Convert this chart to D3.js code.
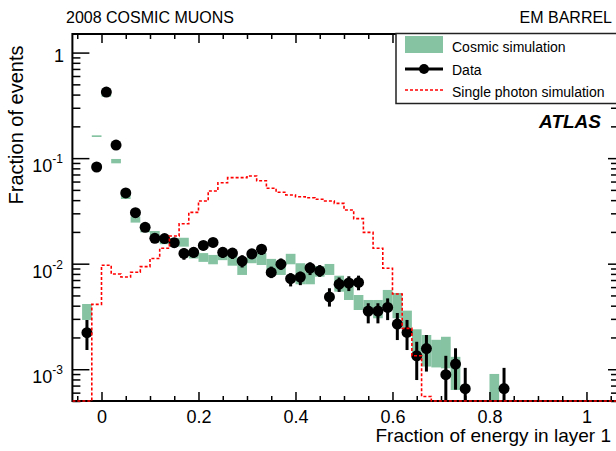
<!DOCTYPE html>
<html><head><meta charset="utf-8">
<script src="https://cdn.jsdelivr.net/npm/d3@7"></script>
<style>
body{margin:0;background:#fff}
text{font-family:"Liberation Sans",Arial,Helvetica,sans-serif;fill:#000}
</style>
</head><body>
<svg id="c" width="616" height="451"></svg>
<script>
// ---------- DATA ----------
const bins = [-0.03,-0.01,0.01,0.03,0.05,0.07,0.09,0.11,0.13,0.15,0.17,0.19,0.21,0.23,0.25,0.27,0.29,0.31,0.33,0.35,0.37,0.39,0.41,0.43,0.45,0.47,0.49,0.51,0.53,0.55,0.57,0.59,0.61,0.63,0.65,0.67,0.69,0.71,0.73,0.75,0.77,0.79,0.81,0.83];
const binWidth = 0.02;
const dataVal = [0.00222,0.0824,0.423,0.133,0.0468,0.0304,0.0221,0.0174,0.0173,0.0158,0.0125,0.0128,0.0149,0.0159,0.0128,0.0126,0.0106,0.0124,0.0137,0.00826,0.00989,0.00721,0.00748,0.0091,0.00853,0.00484,0.0064,0.00656,0.00664,0.00356,0.00356,0.00385,0.00268,0.00223,0.00134,0.00157,null,0.000888,0.00112,0.000654,null,null,null,0.000655];
const dataLo = [0.00152,0.078,0.41,0.127,0.0445,0.0288,0.0208,0.0162,0.0161,0.0146,0.0109,0.0114,0.0134,0.0143,0.0113,0.0111,0.0092,0.011,0.0121,0.0073,0.00873,0.00609,0.00626,0.0078,0.0075,0.00392,0.0054,0.0055,0.0056,0.00272,0.00272,0.00292,0.00189,0.00152,0.00079,0.00095,null,0.00049,0.00064,0.00049,null,null,null,0.00049];
const dataHi = [0.00293,0.087,0.436,0.139,0.049,0.032,0.0234,0.0186,0.0185,0.017,0.014,0.0142,0.0164,0.0175,0.0143,0.0141,0.012,0.0138,0.0153,0.00938,0.0112,0.00813,0.0084,0.0103,0.0097,0.00585,0.0074,0.0076,0.0077,0.00422,0.00422,0.00469,0.00341,0.00293,0.00182,0.00211,null,0.00134,0.00158,0.00103,null,null,null,0.00103];
const simLo = [0.00293,0.1586,0.382,0.0893,0.041,0.0245,0.0198,0.0168,0.0153,0.0145,0.0145,0.0112,0.0104,0.00987,0.0108,0.00957,0.00782,0.0101,0.00972,0.00782,0.00782,0.00987,0.00638,0.00638,0.00753,0.00782,0.00543,0.00453,0.00364,0.00364,0.00304,0.00406,0.00304,0.00236,0.00142,0.00106,0.00104,0.00102,0.000636,null,null,null,0.0003,null];
const simHi = [0.00415,0.1645,0.403,0.0982,0.0465,0.0279,0.0238,0.0204,0.018,0.0175,0.0176,0.0135,0.0126,0.0121,0.0126,0.0121,0.0101,0.0121,0.0126,0.0111,0.0104,0.0124,0.0101,0.0084,0.00951,0.00994,0.00769,0.00628,0.00505,0.00453,0.00453,0.00564,0.00528,0.00359,0.00239,0.00211,0.0019,0.00203,0.00131,null,null,null,0.000902,null];
const photon = [0,0.00412,0.00966,0.00798,0.00748,0.00829,0.00937,0.0112,0.014,0.0183,0.0239,0.0306,0.0393,0.0489,0.0585,0.0653,0.0653,0.0678,0.0611,0.0518,0.0475,0.0448,0.0431,0.0422,0.0408,0.0393,0.0373,0.0323,0.0267,0.0198,0.014,0.00904,0.00516,0.00244,0.00134,0.000552,0,0,0,0,0,0,0,0];
const xTickValues = [0,0.2,0.4,0.6,0.8,1];
const xTickLabels = ["0","0.2","0.4","0.6","0.8","1"];
const yTickValues = [1,0.1,0.01,0.001];
const yTickBase = ["1","10","10","10"];
const yTickExp = ["","-1","-2","-3"];
const legendLabels = ["Cosmic simulation","Data","Single photon simulation"];

// ---------- LAYOUT ----------
const L=72.4, R=618, T=34, B=401;
const green = "#86c3a3";
const svg = d3.select("#c");
const x = d3.scaleLinear().domain([-0.06,1.065]).range([L,R]);
const y = d3.scaleLog().domain([5e-4,1.5]).range([B,T]).clamp(true);
const yv = v => y(Math.max(v,1e-5));

svg.append("defs").append("clipPath").attr("id","clip")
  .append("rect").attr("x",L).attr("y",T).attr("width",R-L).attr("height",B-T+2);
const plot = svg.append("g").attr("clip-path","url(#clip)");

// cosmic simulation boxes
const simData = bins.map((b,i)=>({b,lo:simLo[i],hi:simHi[i]})).filter(d=>d.hi!=null);
plot.selectAll("rect.sim").data(simData).join("rect").attr("class","sim")
  .attr("x",d=>x(d.b-binWidth/2)).attr("width",d=>x(d.b+binWidth/2)-x(d.b-binWidth/2))
  .attr("y",d=>yv(d.hi)).attr("height",d=>yv(d.lo)-yv(d.hi))
  .attr("fill",green);

// data points
const pts = bins.map((b,i)=>({b,v:dataVal[i],lo:dataLo[i],hi:dataHi[i]})).filter(d=>d.v!=null);
plot.selectAll("line.err").data(pts).join("line").attr("class","err")
  .attr("x1",d=>x(d.b)).attr("x2",d=>x(d.b))
  .attr("y1",d=>yv(d.lo)).attr("y2",d=>yv(d.hi))
  .attr("stroke","#000").attr("stroke-width",3);
plot.selectAll("circle.pt").data(pts).join("circle").attr("class","pt")
  .attr("cx",d=>x(d.b)).attr("cy",d=>yv(d.v)).attr("r",5.5).attr("fill","#000");

// frame
svg.append("rect").attr("x",L).attr("y",T).attr("width",R-L).attr("height",B-T)
  .attr("fill","none").attr("stroke","#000").attr("stroke-width",2);

// axes
function clean(g){ g.select(".domain").remove(); g.selectAll(".tick line").attr("stroke","#000").attr("stroke-width",1.5); }
const minorX = d3.range(-0.05,1.07,0.05).filter(v=>Math.abs(Math.round(v*5)-v*5)>1e-6);
svg.append("g").attr("transform",`translate(0,${B})`)
  .call(d3.axisBottom(x).tickValues(minorX).tickSize(-5).tickFormat("")).call(clean);
const xb = svg.append("g").attr("transform",`translate(0,${B})`)
  .call(d3.axisBottom(x).tickValues(xTickValues).tickSize(-9).tickPadding(9).tickFormat((d,i)=>xTickLabels[i]));
clean(xb);
xb.selectAll(".tick text").attr("font-size",18).attr("font-family",null).style("fill","#000");
svg.append("g").attr("transform",`translate(0,${T})`)
  .call(d3.axisTop(x).tickValues(minorX).tickSize(-5).tickFormat("")).call(clean);
svg.append("g").attr("transform",`translate(0,${T})`)
  .call(d3.axisTop(x).tickValues(xTickValues).tickSize(-9).tickFormat("")).call(clean);

const minorY = y.ticks().filter(v=>yTickValues.indexOf(v)<0 && v<=1.5 && v>=5e-4);
svg.append("g").attr("transform",`translate(${L},0)`)
  .call(d3.axisLeft(y).tickValues(minorY).tickSize(-8).tickFormat("")).call(clean);
svg.append("g").attr("transform",`translate(${L},0)`)
  .call(d3.axisLeft(y).tickValues(yTickValues).tickSize(-17).tickFormat("")).call(clean);
svg.append("g").attr("transform",`translate(${R},0)`)
  .call(d3.axisRight(y).tickValues(minorY).tickSize(-7).tickFormat("")).call(clean);
svg.append("g").attr("transform",`translate(${R},0)`)
  .call(d3.axisRight(y).tickValues(yTickValues).tickSize(-10).tickFormat("")).call(clean);

// y tick labels with superscripts
yTickValues.forEach((v,i)=>{
  const ty = y(v);
  if(yTickExp[i]===""){
    svg.append("text").attr("x",64).attr("y",ty+9.5).attr("text-anchor","end")
      .attr("font-size",18).text(yTickBase[i]);
  } else {
    const t = svg.append("text").attr("x",63).attr("y",ty+14).attr("text-anchor","end").attr("font-size",18);
    t.append("tspan").text(yTickBase[i]);
    t.append("tspan").attr("font-size",12).attr("dy",-9).text(yTickExp[i]);
  }
});

// red single photon histogram (step)
const stepPts = [[x.domain()[0],0]];
bins.forEach((b,i)=>{ stepPts.push([b-binWidth/2,photon[i]]); stepPts.push([b+binWidth/2,photon[i]]); });
stepPts.push([x.domain()[1],0]);
const stepLine = d3.line().x(d=>x(d[0])).y(d=>yv(d[1]));
// vertical transitions: insert points
const path = [];
for(let k=0;k<stepPts.length;k++){
  if(k>0 && stepPts[k][1]!==stepPts[k-1][1]) path.push([stepPts[k][0],stepPts[k-1][1]]);
  path.push(stepPts[k]);
}
svg.append("path").attr("clip-path","url(#clip)").attr("d",stepLine(path))
  .attr("fill","none").attr("stroke","#ff0000").attr("stroke-width",1.6)
  .attr("stroke-dasharray","3,2");

// titles
svg.append("text").attr("x",611).attr("y",442).attr("text-anchor","end").attr("font-size",19)
  .text("Fraction of energy in layer 1");
svg.append("text").attr("transform","translate(23,125) rotate(-90)").attr("text-anchor","middle")
  .attr("font-size",20).text("Fraction of events");
svg.append("text").attr("x",66).attr("y",23).attr("font-size",16).text("2008 COSMIC MUONS");
svg.append("text").attr("x",612).attr("y",23).attr("text-anchor","end").attr("font-size",16).text("EM BARREL");

// legend
const lg = svg.append("g");
lg.append("rect").attr("x",396).attr("y",33.5).attr("width",230).attr("height",70)
  .attr("fill","#fff").attr("stroke","#222").attr("stroke-width",1.5);
lg.append("rect").attr("x",405).attr("y",36).attr("width",38).attr("height",17).attr("fill",green);
lg.append("line").attr("x1",405).attr("x2",443).attr("y1",69).attr("y2",69).attr("stroke","#000").attr("stroke-width",3);
lg.append("circle").attr("cx",424).attr("cy",69).attr("r",5).attr("fill","#000");
lg.append("line").attr("x1",405).attr("x2",443).attr("y1",90).attr("y2",90).attr("stroke","#ff0000")
  .attr("stroke-width",1.6).attr("stroke-dasharray","3,2");
[51.5,74.5,96.5].forEach((yy,i)=>{
  lg.append("text").attr("x",452).attr("y",yy).attr("font-size",14).text(legendLabels[i]);
});

// ATLAS label
svg.append("text").attr("x",601).attr("y",128).attr("text-anchor","end")
  .attr("font-size",19).attr("font-weight","bold").attr("font-style","italic").text("ATLAS");
</script>
</body></html>
